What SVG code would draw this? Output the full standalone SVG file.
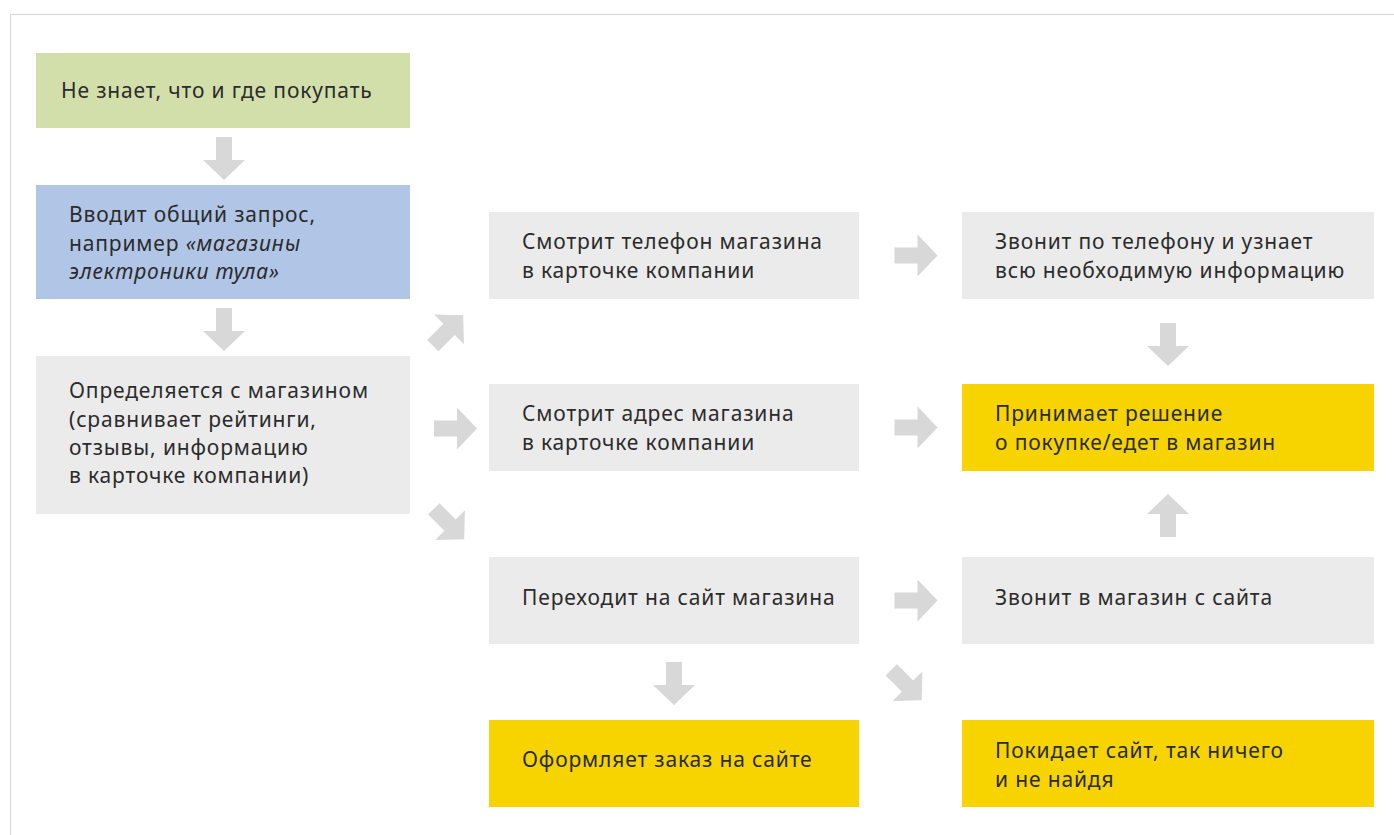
<svg xmlns="http://www.w3.org/2000/svg" xmlns:xlink="http://www.w3.org/1999/xlink" width="1394" height="835" viewBox="0 0 1394 835">
<style>
.t{font-family:"Noto Sans","Open Sans","DejaVu Sans",sans-serif;font-size:21px;letter-spacing:0.85px;fill:#2b2b2b}
.i{font-style:italic}
.green{fill:#d3dfab}.blue{fill:#b1c6e6}.gray{fill:#ebebeb}.yellow{fill:#f7d400}
.arr{fill:#d8d8d8}
</style>
<defs>
<path id="ar" d="M-21.5,-8 H1.5 V-21 L21.5,0 L1.5,21 V8 H-21.5 Z"/>
</defs>
<rect width="1394" height="835" fill="#ffffff"/>
<path d="M10.5,835 V14.5 H1394" fill="none" stroke="#d4d4d4" stroke-width="1"/>

<g id="n1"><rect class="green" x="36" y="53" width="374" height="75"/>
<text class="t" x="61" y="98">Не знает, что и где покупать</text></g>
<g id="n2"><rect class="blue" x="36" y="185" width="374" height="114"/>
<text class="t" x="69" y="222">Вводит общий запрос,</text>
<text class="t" x="69" y="251">например <tspan class="i">«магазины</tspan></text>
<text class="t i" x="69" y="279">электроники тула»</text></g>
<g id="n3"><rect class="gray" x="36" y="356" width="374" height="158"/>
<text class="t" x="69" y="398">Определяется с магазином</text>
<text class="t" x="69" y="427">(сравнивает рейтинги,</text>
<text class="t" x="69" y="455">отзывы, информацию</text>
<text class="t" x="69" y="483">в карточке компании)</text></g>

<g id="n4"><rect class="gray" x="489" y="212" width="370" height="87"/>
<text class="t" x="522" y="249">Смотрит телефон магазина</text>
<text class="t" x="522" y="278">в карточке компании</text></g>
<g id="n5"><rect class="gray" x="489" y="384" width="370" height="87"/>
<text class="t" x="522" y="421">Смотрит адрес магазина</text>
<text class="t" x="522" y="450">в карточке компании</text></g>
<g id="n6"><rect class="gray" x="489" y="557" width="370" height="87"/>
<text class="t" x="522" y="605">Переходит на сайт магазина</text></g>
<g id="n7"><rect class="yellow" x="489" y="720" width="370" height="87"/>
<text class="t" x="522" y="767">Оформляет заказ на сайте</text></g>

<g id="n8"><rect class="gray" x="962" y="212" width="412" height="87"/>
<text class="t" x="995" y="249">Звонит по телефону и узнает</text>
<text class="t" x="995" y="278">всю необходимую информацию</text></g>
<g id="n9"><rect class="yellow" x="962" y="384" width="412" height="87"/>
<text class="t" x="995" y="421">Принимает решение</text>
<text class="t" x="995" y="450">о покупке/едет в магазин</text></g>
<g id="n10"><rect class="gray" x="962" y="557" width="412" height="87"/>
<text class="t" x="995" y="605">Звонит в магазин с сайта</text></g>
<g id="n11"><rect class="yellow" x="962" y="720" width="412" height="87"/>
<text class="t" x="995" y="758">Покидает сайт, так ничего</text>
<text class="t" x="995" y="787">и не найдя</text></g>

<g id="connectors" class="arr">
<use xlink:href="#ar" transform="translate(224,158.5) rotate(90)"/>
<use xlink:href="#ar" transform="translate(224,329.5) rotate(90)"/>
<use xlink:href="#ar" transform="translate(448,330.5) rotate(-45)"/>
<use xlink:href="#ar" transform="translate(455.5,428.5)"/>
<use xlink:href="#ar" transform="translate(449,524) rotate(45)"/>
<use xlink:href="#ar" transform="translate(916,255.5)"/>
<use xlink:href="#ar" transform="translate(916,427.5)"/>
<use xlink:href="#ar" transform="translate(916,600.5)"/>
<use xlink:href="#ar" transform="translate(674,683.5) rotate(90)"/>
<use xlink:href="#ar" transform="translate(906.5,685) rotate(45)"/>
<use xlink:href="#ar" transform="translate(1168,344.5) rotate(90)"/>
<use xlink:href="#ar" transform="translate(1168,515.5) rotate(-90)"/>
</g>
</svg>
